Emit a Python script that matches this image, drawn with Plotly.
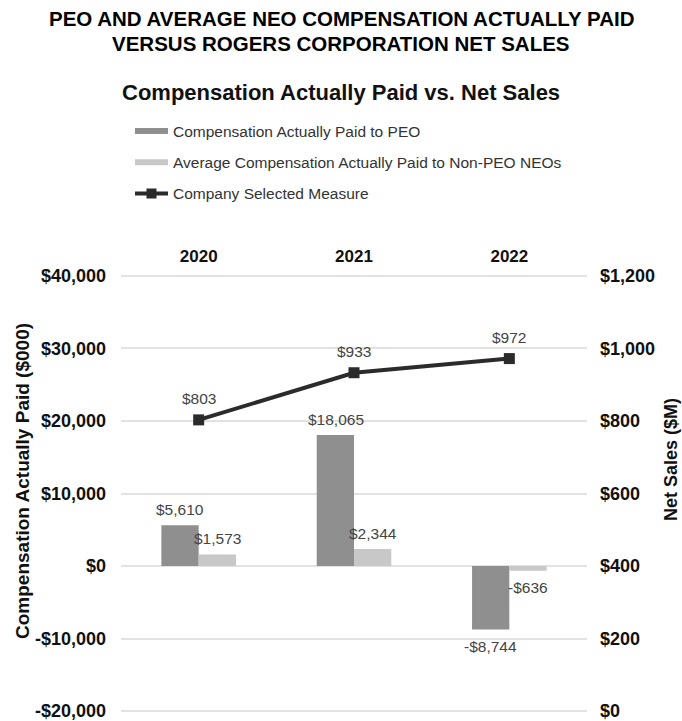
import plotly.graph_objects as go

years = ["2020", "2021", "2022"]
peo_cap = [5610, 18065, -8744]
neo_cap = [1573, 2344, -636]
net_sales = [803, 933, 972]

peo_labels = ["$5,610", "$18,065", "-$8,744"]
neo_labels = ["$1,573", "$2,344", "-$636"]
sales_labels = ["$803", "$933", "$972"]

left_tickvals = [-20000, -10000, 0, 10000, 20000, 30000, 40000]
left_ticktext = ["-$20,000", "-$10,000", "$0", "$10,000", "$20,000", "$30,000", "$40,000"]
right_tickvals = [0, 200, 400, 600, 800, 1000, 1200]
right_ticktext = ["$0", "$200", "$400", "$600", "$800", "$1,000", "$1,200"]

PEO_COLOR = "#8f8f8f"
NEO_COLOR = "#c8c8c8"
LINE_COLOR = "#2b2b2b"
LABEL_COLOR = "#444444"
FONT = "Liberation Sans, Arial, sans-serif"

W, H = 682, 721
ML, MR, MT, MB = 121, 95, 273, 7
PLOT_H = H - MT - MB
PLOT_W = W - ML - MR


def py(pix):
    return (H - MB - pix) / PLOT_H


def px(pix):
    return (pix - ML) / PLOT_W


fig = go.Figure()

fig.add_trace(go.Bar(x=years, y=peo_cap, name="Compensation Actually Paid to PEO",
                     marker=dict(color=PEO_COLOR, line=dict(width=0)), showlegend=False))
fig.add_trace(go.Bar(x=years, y=neo_cap, name="Average Compensation Actually Paid to Non-PEO NEOs",
                     marker=dict(color=NEO_COLOR, line=dict(width=0)), showlegend=False))
fig.add_trace(go.Scatter(x=years, y=net_sales, yaxis="y2", mode="lines+markers",
                         name="Company Selected Measure",
                         line=dict(color=LINE_COLOR, width=4),
                         marker=dict(symbol="square", size=11, color=LINE_COLOR),
                         showlegend=False))

# legend-only entries (wide swatches like the reference)
fig.add_trace(go.Scatter(x=[None], y=[None], mode="lines", name="Compensation Actually Paid to PEO",
                         line=dict(color=PEO_COLOR, width=6), legendgroup="a"))
fig.add_trace(go.Scatter(x=[None], y=[None], mode="lines",
                         name="Average Compensation Actually Paid to Non-PEO NEOs",
                         line=dict(color=NEO_COLOR, width=6), legendgroup="b"))
fig.add_trace(go.Scatter(x=[None], y=[None], mode="lines+markers", name="Company Selected Measure",
                         line=dict(color=LINE_COLOR, width=4),
                         marker=dict(symbol="square", size=10, color=LINE_COLOR), legendgroup="c"))

annotations = []
lab_font = dict(family=FONT, size=15.5, color=LABEL_COLOR)
for i, (v, t) in enumerate(zip(peo_cap, peo_labels)):
    annotations.append(dict(x=i, y=v, text=t, showarrow=False, xshift=-18.5,
                            yshift=16 if v >= 0 else -17, yanchor="middle", font=lab_font))
for i, (v, t) in enumerate(zip(neo_cap, neo_labels)):
    annotations.append(dict(x=i, y=v, text=t, showarrow=False, xshift=18.5,
                            yshift=16 if v >= 0 else -17, yanchor="middle", font=lab_font))
for i, (v, t) in enumerate(zip(net_sales, sales_labels)):
    annotations.append(dict(x=i, y=v, yref="y2", text=t, showarrow=False,
                            yshift=21, yanchor="middle", font=lab_font))

annotations.append(dict(xref="paper", yref="paper", x=px(341), y=py(18), xanchor="center",
                        yanchor="middle", showarrow=False,
                        text="<b>PEO AND AVERAGE NEO COMPENSATION ACTUALLY PAID</b>",
                        font=dict(family=FONT, size=20.5, color="#000")))
annotations.append(dict(xref="paper", yref="paper", x=px(341), y=py(43), xanchor="center",
                        yanchor="middle", showarrow=False,
                        text="<b>VERSUS ROGERS CORPORATION NET SALES</b>",
                        font=dict(family=FONT, size=20.5, color="#000")))
annotations.append(dict(xref="paper", yref="paper", x=px(341), y=py(92),
                        xanchor="center", yanchor="middle", showarrow=False,
                        text="<b>Compensation Actually Paid vs. Net Sales</b>",
                        font=dict(family=FONT, size=22, color="#111")))
annotations.append(dict(xref="paper", yref="paper", x=px(22), y=py(481),
                        xanchor="center", yanchor="middle", showarrow=False, textangle=-90,
                        text="<b>Compensation Actually Paid ($000)</b>",
                        font=dict(family=FONT, size=19, color="#111")))
annotations.append(dict(xref="paper", yref="paper", x=px(671), y=py(460),
                        xanchor="center", yanchor="middle", showarrow=False, textangle=-90,
                        text="<b>Net Sales ($M)</b>",
                        font=dict(family=FONT, size=18, color="#111")))

fig.update_layout(
    width=W, height=H,
    margin=dict(l=ML, r=MR, t=MT, b=MB, autoexpand=False),
    paper_bgcolor="white", plot_bgcolor="white",
    barmode="group", bargap=0.52, bargroupgap=0,
    font=dict(family=FONT, color="#111"),
    showlegend=True,
    legend=dict(x=px(130), y=py(114.5),
                xanchor="left", yanchor="top", bgcolor="rgba(0,0,0,0)",
                font=dict(family=FONT, size=15.5, color="#333"),
                tracegroupgap=8, itemwidth=33),
    xaxis=dict(type="category", range=[-0.5, 2.5], side="top", showgrid=False,
               showline=False, ticks="", automargin=False,
               tickfont=dict(family=FONT, size=17, color="#111", weight="bold"),
               ticklabelstandoff=7),
    yaxis=dict(range=[-20400, 40400], tickvals=left_tickvals, ticktext=left_ticktext,
               showgrid=True, gridcolor="#e2e2e2", gridwidth=2,
               zeroline=True, zerolinecolor="#e2e2e2", zerolinewidth=2,
               showline=False, ticks="", ticklabelstandoff=14, ticklabeloverflow="allow",
               automargin=False,
               tickfont=dict(family=FONT, size=18, color="#111", weight="bold")),
    yaxis2=dict(range=[-8, 1208], tickvals=right_tickvals, ticktext=right_ticktext,
                overlaying="y", side="right", showgrid=False, zeroline=False,
                showline=False, ticks="", ticklabelstandoff=12, ticklabeloverflow="allow",
                automargin=False,
                tickfont=dict(family=FONT, size=18, color="#111", weight="bold")),
    annotations=annotations,
)

fig.write_html("out.html")
